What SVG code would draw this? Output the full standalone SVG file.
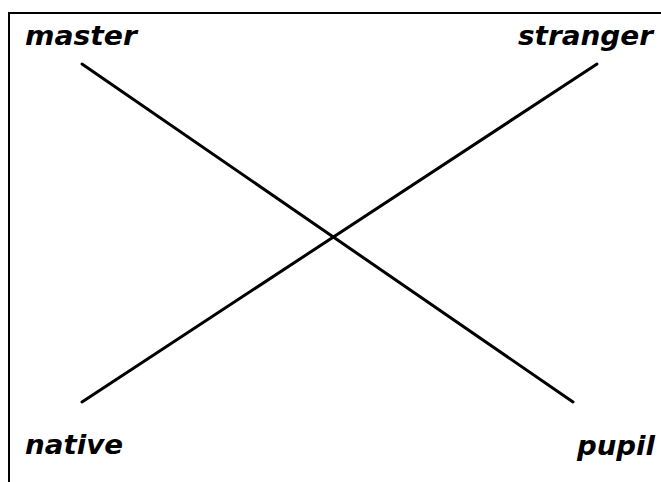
<svg xmlns="http://www.w3.org/2000/svg" width="661" height="482" viewBox="0 0 661 482">
<style>
.lbl{font-family:"DejaVu Sans","Liberation Sans",sans-serif;font-weight:bold;font-style:italic;font-size:27px;fill:#000}
.ln{stroke:#000;stroke-width:3;stroke-linecap:round;fill:none}
</style>
<rect x="0" y="0" width="661" height="482" fill="#fff"/>
<g id="frame"><path d="M9,482 V13 H661" stroke="#000" stroke-width="2" fill="none"/></g>
<g id="connectors">
<line class="ln" x1="82" y1="64" x2="573" y2="402"/>
<line class="ln" x1="597" y1="64" x2="82" y2="402"/>
</g>
<g id="master"><text class="lbl" x="25" y="45" textLength="112" lengthAdjust="spacingAndGlyphs">master</text></g>
<g id="stranger"><text class="lbl" x="518" y="45" textLength="135" lengthAdjust="spacingAndGlyphs">stranger</text></g>
<g id="native"><text class="lbl" x="25" y="454" textLength="98" lengthAdjust="spacingAndGlyphs">native</text></g>
<g id="pupil"><text class="lbl" x="577" y="455" textLength="78" lengthAdjust="spacingAndGlyphs">pupil</text></g>
</svg>
